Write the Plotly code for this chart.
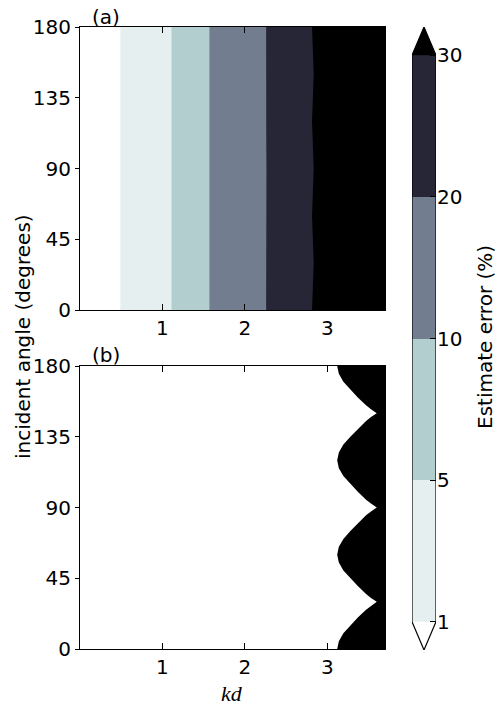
import plotly.graph_objects as go

# ---------------- data ----------------
KD_MAX = 3.7

# Panel (a): kd at which the estimate error crosses each level, per incident angle
angles_a = [0, 15, 30, 45, 60, 75, 90, 105, 120, 135, 150, 165, 180]
kd_err1 = [0.49, 0.49, 0.49, 0.49, 0.49, 0.49, 0.49, 0.49, 0.49, 0.49, 0.49, 0.49, 0.49]
kd_err5 = [1.11, 1.11, 1.11, 1.11, 1.11, 1.11, 1.11, 1.11, 1.11, 1.11, 1.11, 1.11, 1.11]
kd_err10 = [1.57, 1.57, 1.57, 1.57, 1.57, 1.57, 1.57, 1.57, 1.57, 1.57, 1.57, 1.57, 1.57]
kd_err20 = [2.258, 2.26, 2.262, 2.26, 2.258, 2.26, 2.262, 2.26, 2.258, 2.26, 2.262, 2.26, 2.258]
kd_err30 = [2.815, 2.825, 2.835, 2.825, 2.815, 2.825, 2.835, 2.825, 2.815, 2.825, 2.835, 2.825, 2.815]

# Panel (b): boundary of the region above threshold
angles_b = [0, 5, 10, 15, 20, 25, 27.5, 30, 32.5, 35, 40, 45, 50, 55,
            60, 65, 70, 75, 80, 85, 87.5, 90, 92.5, 95, 100, 105, 110, 115,
            120, 125, 130, 135, 140, 145, 147.5, 150, 152.5, 155, 160, 165, 170, 175, 180]
kd_b = [3.12, 3.14, 3.195, 3.28, 3.37, 3.47, 3.53, 3.60, 3.53, 3.47, 3.37, 3.28, 3.195, 3.14,
        3.12, 3.14, 3.195, 3.28, 3.37, 3.47, 3.53, 3.60, 3.53, 3.47, 3.37, 3.28, 3.195, 3.14,
        3.12, 3.14, 3.195, 3.28, 3.37, 3.47, 3.53, 3.60, 3.53, 3.47, 3.37, 3.28, 3.195, 3.14, 3.12]

levels = [1, 5, 10, 20, 30]
level_labels = ["1", "5", "10", "20", "30"]
band_colors = ["#e5eff0", "#b3cece", "#727e90", "#272636"]
under_color = "#ffffff"
over_color = "#000000"

x_ticks = [1, 2, 3]
y_ticks = [0, 45, 90, 135, 180]

FONT = "DejaVu Sans"
FS = 20

fig = go.Figure()

# ---- panel (a): layered filled regions ----
boundaries = [kd_err1, kd_err5, kd_err10, kd_err20, kd_err30]
layer_colors = band_colors + [over_color]
for bnd, col in zip(boundaries, layer_colors):
    fig.add_trace(go.Scatter(
        x=list(bnd) + [KD_MAX, KD_MAX], y=list(angles_a) + [180, 0],
        mode="lines", fill="toself", fillcolor=col, line=dict(width=0, color=col),
        xaxis="x", yaxis="y", hoverinfo="skip", showlegend=False))

# ---- panel (b) ----
fig.add_trace(go.Scatter(
    x=list(kd_b) + [KD_MAX, KD_MAX], y=list(angles_b) + [180, 0],
    mode="lines", fill="toself", fillcolor=over_color, line=dict(width=0, color=over_color),
    xaxis="x2", yaxis="y2", hoverinfo="skip", showlegend=False))

# ---- colorbar drawn on its own axes ----
for i, col in enumerate(band_colors):
    fig.add_trace(go.Bar(x=[0], y=[1], base=[i], width=[1], marker=dict(color=col, line=dict(width=0)),
                         xaxis="x3", yaxis="y3", hoverinfo="skip", showlegend=False))
n = len(levels) - 1
ext = 0.2
fig.add_trace(go.Scatter(x=[-0.5, 0, 0.5, -0.5], y=[n, n + ext, n, n], mode="lines", fill="toself",
                         fillcolor=over_color, line=dict(width=0), xaxis="x3", yaxis="y3",
                         hoverinfo="skip", showlegend=False))
fig.add_trace(go.Scatter(x=[-0.5, 0, 0.5, -0.5], y=[0, -ext, 0, 0], mode="lines", fill="toself",
                         fillcolor=under_color, line=dict(width=0), xaxis="x3", yaxis="y3",
                         hoverinfo="skip", showlegend=False))
fig.add_trace(go.Scatter(x=[-0.5, -0.5, 0, 0.5, 0.5, 0, -0.5],
                         y=[0, n, n + ext, n, 0, -ext, 0], mode="lines",
                         line=dict(width=1.2, color="black"), xaxis="x3", yaxis="y3",
                         hoverinfo="skip", showlegend=False))

W, H = 500, 705
def fx(px):
    return px / W
def fy(py):
    return (H - py) / H

xcommon = dict(range=[0, KD_MAX], tickvals=x_ticks, ticks="inside", ticklen=6, tickwidth=1,
               tickcolor="black", mirror="ticks", showline=True, linecolor="black", linewidth=1.2,
               showgrid=False, zeroline=False, tickfont=dict(family=FONT, size=FS, color="black"),
               domain=[fx(80), fx(385)], automargin=False)
ycommon = dict(range=[0, 180], tickvals=y_ticks, ticks="outside", ticklen=4, tickwidth=1,
               tickcolor="black", mirror=True, showline=True, linecolor="black", linewidth=1.2,
               showgrid=False, zeroline=False, tickfont=dict(family=FONT, size=FS, color="black"),
               automargin=False)

fig.update_layout(
    width=W, height=H, autosize=False, margin=dict(l=0, r=0, t=0, b=0, pad=0, autoexpand=False),
    paper_bgcolor="white", plot_bgcolor="white", barmode="overlay", bargap=0,
    xaxis=dict(**xcommon, anchor="y"),
    yaxis=dict(**ycommon, anchor="x", domain=[fy(310), fy(27)]),
    xaxis2=dict(**xcommon, anchor="y2"),
    yaxis2=dict(**ycommon, anchor="x2", domain=[fy(649), fy(366)]),
    xaxis3=dict(domain=[fx(412), fx(436)], range=[-0.5, 0.5], visible=False, anchor="y3",
                automargin=False),
    yaxis3=dict(domain=[fy(650), fy(27)], range=[-ext, n + ext], anchor="x3", side="right",
                tickvals=list(range(len(levels))), ticktext=level_labels, ticks="inside",
                ticklen=6, tickcolor="black", showline=False, showgrid=False, zeroline=False,
                tickfont=dict(family=FONT, size=FS, color="black"), automargin=False),
    showlegend=False,
)

ann = [
    dict(text="(a)", x=fx(90), y=fy(17), xanchor="left", yanchor="middle"),
    dict(text="(b)", x=fx(90), y=fy(355), xanchor="left", yanchor="middle"),
    dict(text="incident angle (degrees)", x=fx(23), y=fy(337), textangle=-90,
         xanchor="center", yanchor="middle"),
    dict(text="Estimate error (%)", x=fx(485), y=fy(337), textangle=-90,
         xanchor="center", yanchor="middle"),
]
for a in ann:
    fig.add_annotation(xref="paper", yref="paper", showarrow=False,
                       font=dict(family=FONT, size=FS, color="black"), **a)
fig.add_annotation(xref="paper", yref="paper", showarrow=False, text="<i>kd</i>",
                   x=fx(232), y=fy(693), xanchor="center", yanchor="middle",
                   font=dict(family="Liberation Serif", size=22, color="black"))

fig.write_html("out.html")
